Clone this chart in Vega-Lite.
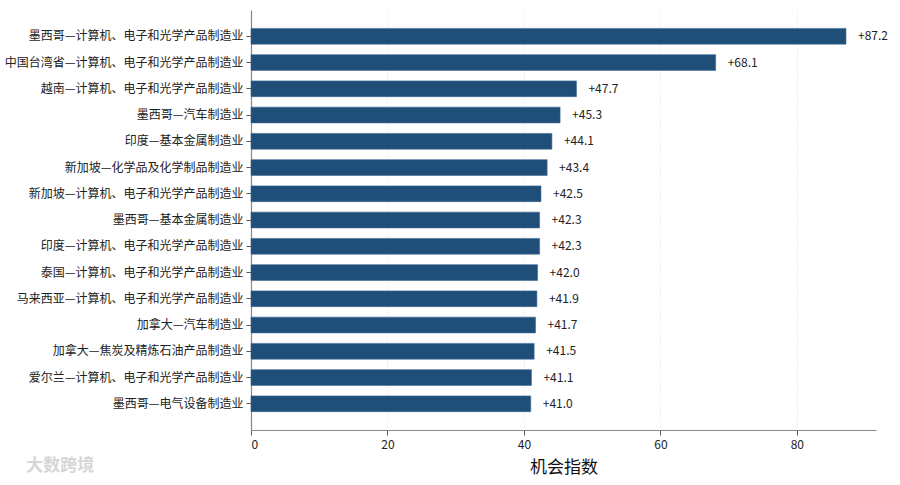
{
  "$schema": "https://vega.github.io/schema/vega-lite/v6.json",
  "width": 625,
  "height": 420,
  "padding": {"left": 4, "top": 10, "right": 22, "bottom": 5},
  "background": "white",
  "title": {
    "text": "大数跨境",
    "orient": "bottom",
    "anchor": "start",
    "frame": "bounds",
    "dx": 22,
    "dy": -17,
    "offset": 0,
    "fontSize": 17,
    "fontWeight": "bold",
    "color": "#d6d6d6"
  },
  "config": {
    "view": {"stroke": null},
    "font": "Noto Sans CJK SC",
    "axis": {"labelFont": "Noto Sans CJK SC", "titleFont": "Noto Sans CJK SC"}
  },
  "data": {
    "values": [
      {"rank": 1, "name": "墨西哥—计算机、电子和光学产品制造业", "score": 87.2},
      {"rank": 2, "name": "中国台湾省—计算机、电子和光学产品制造业", "score": 68.1},
      {"rank": 3, "name": "越南—计算机、电子和光学产品制造业", "score": 47.7},
      {"rank": 4, "name": "墨西哥—汽车制造业", "score": 45.3},
      {"rank": 5, "name": "印度—基本金属制造业", "score": 44.1},
      {"rank": 6, "name": "新加坡—化学品及化学制品制造业", "score": 43.4},
      {"rank": 7, "name": "新加坡—计算机、电子和光学产品制造业", "score": 42.5},
      {"rank": 8, "name": "墨西哥—基本金属制造业", "score": 42.3},
      {"rank": 9, "name": "印度—计算机、电子和光学产品制造业", "score": 42.3},
      {"rank": 10, "name": "泰国—计算机、电子和光学产品制造业", "score": 42.0},
      {"rank": 11, "name": "马来西亚—计算机、电子和光学产品制造业", "score": 41.9},
      {"rank": 12, "name": "加拿大—汽车制造业", "score": 41.7},
      {"rank": 13, "name": "加拿大—焦炭及精炼石油产品制造业", "score": 41.5},
      {"rank": 14, "name": "爱尔兰—计算机、电子和光学产品制造业", "score": 41.1},
      {"rank": 15, "name": "墨西哥—电气设备制造业", "score": 41.0}
    ]
  },
  "encoding": {
    "y": {
      "field": "name",
      "type": "nominal",
      "sort": {"field": "rank", "order": "ascending"},
      "scale": {"paddingInner": 0.4, "paddingOuter": 0.7},
      "axis": {
        "title": null,
        "labelFontSize": 12,
        "labelColor": "#222",
        "labelPadding": 3,
        "tickSize": 5,
        "tickColor": "#555",
        "domainColor": "#888",
        "domainWidth": 1.2,
        "labelLimit": 400
      }
    },
    "x": {
      "field": "score",
      "type": "quantitative",
      "scale": {"domain": [0, 91.6], "nice": false, "zero": true},
      "axis": {
        "title": "机会指数",
        "titleFontSize": 17,
        "titleFontWeight": "normal",
        "titleColor": "#111",
        "titlePadding": 9,
        "values": [0, 20, 40, 60, 80],
        "labelFontSize": 12,
        "labelColor": "#222",
        "labelPadding": 4,
        "tickSize": 5,
        "tickColor": "#555",
        "domainColor": "#888",
        "domainWidth": 1.2,
        "grid": true,
        "gridColor": "#d8d8d8",
        "gridDash": [1, 2],
        "gridWidth": 0.8
      }
    }
  },
  "layer": [
    {
      "mark": {"type": "bar", "color": "#1f4e79", "stroke": "#3d6a94", "strokeWidth": 0.6}
    },
    {
      "mark": {"type": "text", "align": "left", "baseline": "middle", "dx": 12, "fontSize": 12, "color": "#222"},
      "encoding": {
        "text": {"field": "score", "type": "quantitative", "format": "+.1f"}
      }
    }
  ]
}
